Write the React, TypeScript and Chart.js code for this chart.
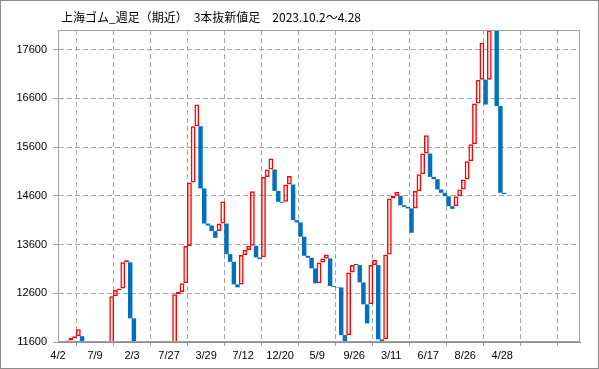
import React, { useEffect, useRef } from 'react';
import { Chart, registerables } from 'chart.js';

Chart.register(...registerables);

const TITLE = '上海ゴム_週足（期近）　3本抜新値足　2023.10.2～4.28';

// x-axis tick labels (one per 10 lines), last two empty
const xTickLabels = ['4/2', '7/9', '2/3', '7/27', '3/29', '7/12', '12/20', '5/9', '9/26', '3/11', '6/17', '8/26', '4/28', '', ''];
const xTickPositions = [-0.5, 9.5, 19.5, 29.5, 39.5, 49.5, 59.5, 69.5, 79.5, 89.5, 99.5, 109.5, 119.5, 129.5, 139.5];
const yTicks = [11600, 12600, 13600, 14600, 15600, 16600, 17600];

// each line of the three-line-break chart: column index, low, high, direction (1 = up / red, 0 = down / blue)
const lineIndex = [
  2, 3, 4, 5, 6,
  14, 15, 16, 17, 18, 19, 20,
  31, 32, 33, 34, 35, 36, 37, 38, 39, 40, 41, 42, 43, 44, 45, 46, 47, 48, 49, 50,
  51, 52, 53, 54, 55, 56, 57, 58, 59, 60, 61, 62, 63, 64, 65, 66, 67, 68, 69, 70,
  71, 72, 73, 74, 75, 76, 77, 78, 79, 80, 81, 82, 83, 84, 85, 86, 87, 88, 89, 90,
  91, 92, 93, 94, 95, 96, 97, 98, 99, 100, 101, 102, 103, 104, 105, 106, 107, 108, 109, 110,
  111, 112, 113, 114, 115, 116, 117, 118, 119, 120,
];
const lineLow = [
  11540, 11630, 11680, 11720, 11400,
  11300, 12540, 12665, 12700, 13235, 12085, 11300,
  11300, 12577, 12625, 12803, 13567, 14872, 16026, 14750, 14030, 13990, 13875, 13737, 13875, 14030, 13403, 13245, 12782, 12721, 12782, 13383,
  13485, 13573, 13336, 13300, 13336, 14987, 15139, 14700, 14475, 14455, 14475, 14830, 14100, 14053, 13758, 13368, 13327, 13110, 12803, 12803,
  13233, 13315, 12748, 12730, 12720, 11743, 11300, 11743, 13028, 13178, 12823, 12372, 11983, 12372, 13178, 11655, 11300, 11655, 13397, 14544,
  14598, 14405, 14370, 14340, 13840, 14340, 14695, 15042, 15466, 14987, 14940, 14729, 14660, 14590, 14385, 14330, 14385, 14590, 14729, 14934,
  15309, 15655, 16490, 16982, 16470, 16982, 17993, 16440, 14660, 14633,
];
const lineHigh = [
  11630, 11680, 11720, 11860, 11720,
  12540, 12665, 12700, 13235, 13275, 13235, 12085,
  12577, 12625, 12803, 13567, 14872, 16026, 16470, 16026, 14750, 14030, 13990, 13875, 14030, 14483, 14030, 13403, 13245, 12782, 13383, 13485,
  13573, 14694, 13573, 13336, 14987, 15139, 15364, 15139, 14700, 14475, 14830, 15007, 14830, 14100, 14053, 13758, 13368, 13327, 13110, 13233,
  13315, 13397, 13315, 12748, 12730, 12720, 11743, 13028, 13178, 13198, 13178, 12823, 12372, 13178, 13280, 13178, 11655, 13397, 14544, 14598,
  14680, 14598, 14405, 14370, 14340, 14695, 15042, 15466, 15841, 15466, 14987, 14940, 14729, 14660, 14590, 14385, 14590, 14729, 14934, 15309,
  15655, 16490, 16982, 17741, 16982, 17993, 18040, 18040, 16440, 14660,
];
const lineUp = [
  1, 1, 1, 1, 0,
  1, 1, 1, 1, 1, 0, 0,
  1, 1, 1, 1, 1, 1, 1, 0, 0, 0, 0, 0, 1, 1, 0, 0, 0, 0, 1, 1,
  1, 1, 0, 0, 1, 1, 1, 0, 0, 0, 1, 1, 0, 0, 0, 0, 0, 0, 0, 1,
  1, 1, 0, 0, 0, 0, 0, 1, 1, 1, 0, 0, 0, 1, 1, 0, 0, 1, 1, 1,
  1, 0, 0, 0, 0, 1, 1, 1, 1, 0, 0, 0, 0, 0, 0, 0, 1, 1, 1, 1,
  1, 1, 1, 1, 0, 1, 1, 0, 0, 0,
];

const FONT = '"Liberation Sans", Arial, sans-serif';

const framePlugin = {
  id: 'frame',
  afterDraw(chart: any) {
    const { ctx, chartArea: a } = chart;
    ctx.save();
    ctx.lineWidth = 1;
    ctx.strokeStyle = '#a0a0a0';
    const l = Math.round(a.left) + 0.5;
    const t = Math.round(a.top) + 0.5;
    const r = Math.round(a.right) - 0.5;
    const b = Math.round(a.bottom) - 0.5;
    ctx.strokeRect(l, t, r - l, b - t);
    ctx.strokeStyle = '#8c8c8c';
    ctx.strokeRect(0.5, 0.5, chart.width - 1, chart.height - 1);
    ctx.fillStyle = '#000';
    ctx.font = '12px "Noto Sans CJK JP", sans-serif';
    ctx.textBaseline = 'alphabetic';
    ctx.fillText(TITLE, 61, 22);
    ctx.restore();
  },
};

export default function App() {
  const canvasRef = useRef<HTMLCanvasElement | null>(null);

  useEffect(() => {
    document.body.style.margin = '0';
    const canvas = canvasRef.current;
    if (!canvas) return;

    const upData: any[] = [];
    const downData: any[] = [];
    lineIndex.forEach((x, i) => {
      const point = { x, y: [lineLow[i], lineHigh[i]] };
      if (lineUp[i]) upData.push(point);
      else downData.push(point);
    });

    const chart = new Chart(canvas, {
      type: 'bar',
      data: {
        datasets: [
          {
            label: 'down',
            data: downData,
            backgroundColor: '#0070c0',
            borderWidth: 0,
            barPercentage: 1.2,
            categoryPercentage: 1,
            grouped: false,
            clip: 0,
          } as any,
          {
            label: 'up',
            data: upData,
            backgroundColor: 'rgba(255,255,255,0)',
            borderColor: '#ff0000',
            borderWidth: 1.5,
            borderSkipped: false,
            barPercentage: 1.3,
            categoryPercentage: 1,
            grouped: false,
            clip: 0,
          } as any,
        ],
      },
      options: {
        responsive: false,
        devicePixelRatio: 1,
        animation: false,
        layout: { padding: { left: 0, right: 19, top: 30, bottom: 0 } },
        plugins: {
          legend: { display: false },
          tooltip: { enabled: false },
          title: { display: false },
        },
        scales: {
          x: {
            type: 'linear',
            min: -0.5,
            max: 140.5,
            offset: false,
            afterBuildTicks: (s: any) => {
              s.ticks = xTickPositions.map((v) => ({ value: v }));
            },
            afterFit: (s: any) => {
              s.height = 27;
            },
            ticks: {
              autoSkip: false,
              maxRotation: 0,
              minRotation: 0,
              padding: 3,
              color: '#000',
              font: { family: FONT, size: 11 },
              callback: (_v: any, i: number) => xTickLabels[i] ?? '',
            },
            grid: {
              color: '#a6a6a6',
              lineWidth: 1,
              tickLength: 4,
              tickBorderDash: [],
              tickColor: '#a0a0a0',
            },
            border: { display: true, color: '#8c8c8c', width: 1, dash: [5, 3] },
          },
          y: {
            type: 'linear',
            min: 11600,
            max: 18000,
            afterBuildTicks: (s: any) => {
              s.ticks = yTicks.map((v) => ({ value: v }));
            },
            afterFit: (s: any) => {
              s.width = 58;
            },
            ticks: {
              padding: 6,
              color: '#000',
              font: { family: FONT, size: 11 },
              callback: (v: any) => String(v),
            },
            grid: {
              color: '#a6a6a6',
              lineWidth: 1,
              tickLength: 5,
              tickBorderDash: [],
              tickColor: '#a0a0a0',
            },
            border: { display: true, color: '#8c8c8c', width: 1, dash: [5, 3] },
          },
        },
      } as any,
      plugins: [framePlugin],
    });

    return () => {
      chart.destroy();
    };
  }, []);

  return (
    <div style={{ width: 599, height: 369 }}>
      <canvas ref={canvasRef} width={599} height={369} style={{ display: 'block' }} />
    </div>
  );
}
